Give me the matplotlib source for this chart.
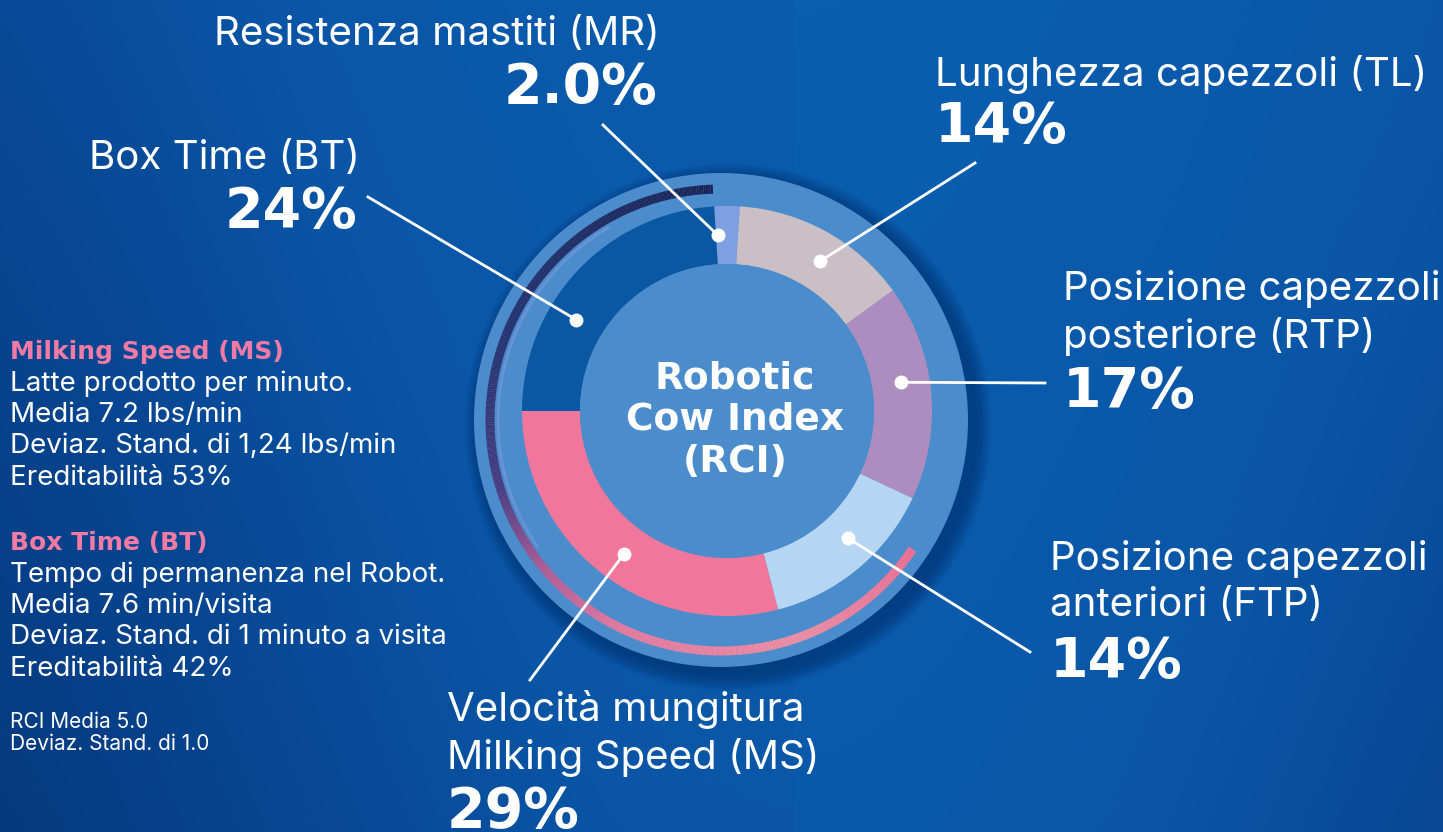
import numpy as np
import matplotlib
matplotlib.use("Agg")
import matplotlib.pyplot as plt
from matplotlib.patches import Circle
from matplotlib.collections import LineCollection
from matplotlib.colors import LinearSegmentedColormap

# RCI components (clockwise from 12 o'clock)
names = ["Resistenza mastiti (MR)", "Lunghezza capezzoli (TL)",
         "Posizione capezzoli\nposteriore (RTP)", "Posizione capezzoli\nanteriori (FTP)",
         "Velocità mungitura\nMilking Speed (MS)", "Box Time (BT)"]
values = [2.0, 14, 17, 14, 29, 24]
pct_labels = ["2.0%", "14%", "17%", "14%", "29%", "24%"]
colors = ["#7f9fe3", "#cbbfc6", "#ad8dc0", "#b5d5f2", "#f0779b", "#0a58a3"]

ms_lines = ["Latte prodotto per minuto.", "Media 7.2 lbs/min",
            "Deviaz. Stand. di 1,24 lbs/min", "Ereditabilità 53%"]
bt_lines = ["Tempo di permanenza nel Robot.", "Media 7.6 min/visita",
            "Deviaz. Stand. di 1 minuto a visita", "Ereditabilità 42%"]
rci_lines = ["RCI Media 5.0", "Deviaz. Stand. di 1.0"]

LAB = "Inter"
BIG = "DejaVu Sans"
PINK = "#f27ba6"

fig = plt.figure(figsize=(14.43, 8.32), dpi=100)
ax = fig.add_axes([0, 0, 1, 1])

# background gradient
gx = np.linspace(0, 1, 300)
gy = np.linspace(0, 1, 200)[:, None]
bg = 0.7 * np.exp(-((gx - 0.55) / 0.45) ** 2) + 0.15 * (gx > 0.55) - 0.3 * gy
bg_cmap = LinearSegmentedColormap.from_list("bg", ["#063a80", "#0a55a6", "#0b5eb0"])
ax.imshow(bg, extent=(0, 1443, 832, 0), cmap=bg_cmap, aspect="auto", zorder=0)

cx, cy = 727, 411

# outer disc with shadow
for k in range(10):
    ax.add_patch(Circle((728, 427), 249 + k * 1.6, color="#032c66", alpha=0.07, lw=0, zorder=1))
ax.add_patch(Circle((721, 420), 247, color="#4b8dcc", lw=0, zorder=2))

# ring
wedges, _ = ax.pie(values, colors=colors, startangle=266.4, counterclock=True,
                   radius=205, center=(cx, cy),
                   wedgeprops=dict(width=58, linewidth=0))
for w in wedges:
    w.set_zorder(3)
ax.add_patch(Circle((cx, cy), 147, color="#4b8dcc", lw=0, zorder=4))

# decorative outer arc (pink -> purple -> navy)
ang = np.radians(np.linspace(124, 358, 400) - 90)
r_arc = 231
px = 721 + r_arc * np.cos(ang)
py = 420 + r_arc * np.sin(ang)
pts = np.column_stack([px, py]).reshape(-1, 1, 2)
segs = np.concatenate([pts[:-1], pts[1:]], axis=1)
arc_cmap = LinearSegmentedColormap.from_list(
    "arc", [(0.0, "#f26f92"), (0.15, "#f58ea3"), (0.35, "#ec7a9e"),
            (0.45, "#b45c94"), (0.55, "#4a3c80"), (0.7, "#28336f"), (1.0, "#1b2456")])
lc = LineCollection(segs, cmap=arc_cmap, linewidths=6.5, zorder=3, capstyle="butt")
lc.set_array(np.linspace(0, 1, len(segs)))
ax.add_collection(lc)
ang2 = np.radians(np.linspace(235, 330, 200) - 90)
ax.plot(721 + 223 * np.cos(ang2), 420 + 223 * np.sin(ang2), color="#7c98dc",
        lw=2, alpha=0.6, zorder=3, solid_capstyle="butt")

# centre text
ax.text(735, 420, "Robotic\nCow Index\n(RCI)", ha="center", va="center", color="white",
        fontsize=27, fontweight="bold", family=BIG, linespacing=1.2, zorder=6)

# labels: (text x, name top y, alignment, leader outer end, dot angle nudge)
layout = [
    (660, 16, "right", (603, 125), -3),
    (935, 55, "left", (975, 163), 3),
    (1063, 270, "left", (1045, 383), -4),
    (1050, 540, "left", (1030, 652), -4),
    (447, 690, "left", (530, 680), -2),
    (360, 140, "right", (368, 197), -12),
]
for w, name, pl, (tx, ty, ha, end, nudge) in zip(wedges, names, pct_labels, layout):
    nlines = name.count("\n") + 1
    ax.text(tx, ty, name, ha=ha, va="top", color="white", fontsize=29, family=LAB,
            linespacing=1.3, zorder=6)
    ax.text(tx - 3 if ha == "right" else tx, ty + 50 * nlines - 5, pl, ha=ha, va="top",
            color="white", fontsize=40, fontweight="bold", family=BIG, zorder=6)
    mid = np.radians((w.theta1 + w.theta2) / 2 + nudge)
    dx, dy = cx + 176 * np.cos(mid), cy + 176 * np.sin(mid)
    ax.plot([end[0], dx], [end[1], dy], color="white", lw=2, zorder=7)
    ax.plot(dx, dy, "o", color="white", ms=9, zorder=8)

# left notes
y = 352
ax.text(10, y, "Milking Speed (MS)", color=PINK, fontsize=18, fontweight="bold",
        family=BIG, va="center", zorder=6)
for i, s in enumerate(ms_lines):
    ax.text(10, y + 31.5 * (i + 1), s, color="white", fontsize=20, family=LAB,
            va="center", zorder=6)
y = 543
ax.text(10, y, "Box Time (BT)", color=PINK, fontsize=18, fontweight="bold",
        family=BIG, va="center", zorder=6)
for i, s in enumerate(bt_lines):
    ax.text(10, y + 31.5 * (i + 1), s, color="white", fontsize=20, family=LAB,
            va="center", zorder=6)
for i, s in enumerate(rci_lines):
    ax.text(10, 722 + 22 * i, s, color="white", fontsize=15, family=LAB,
            va="center", zorder=6)

ax.set_xlim(0, 1443)
ax.set_ylim(832, 0)
ax.set_aspect("equal")
ax.axis("off")

fig.savefig("out.png", dpi=100)
